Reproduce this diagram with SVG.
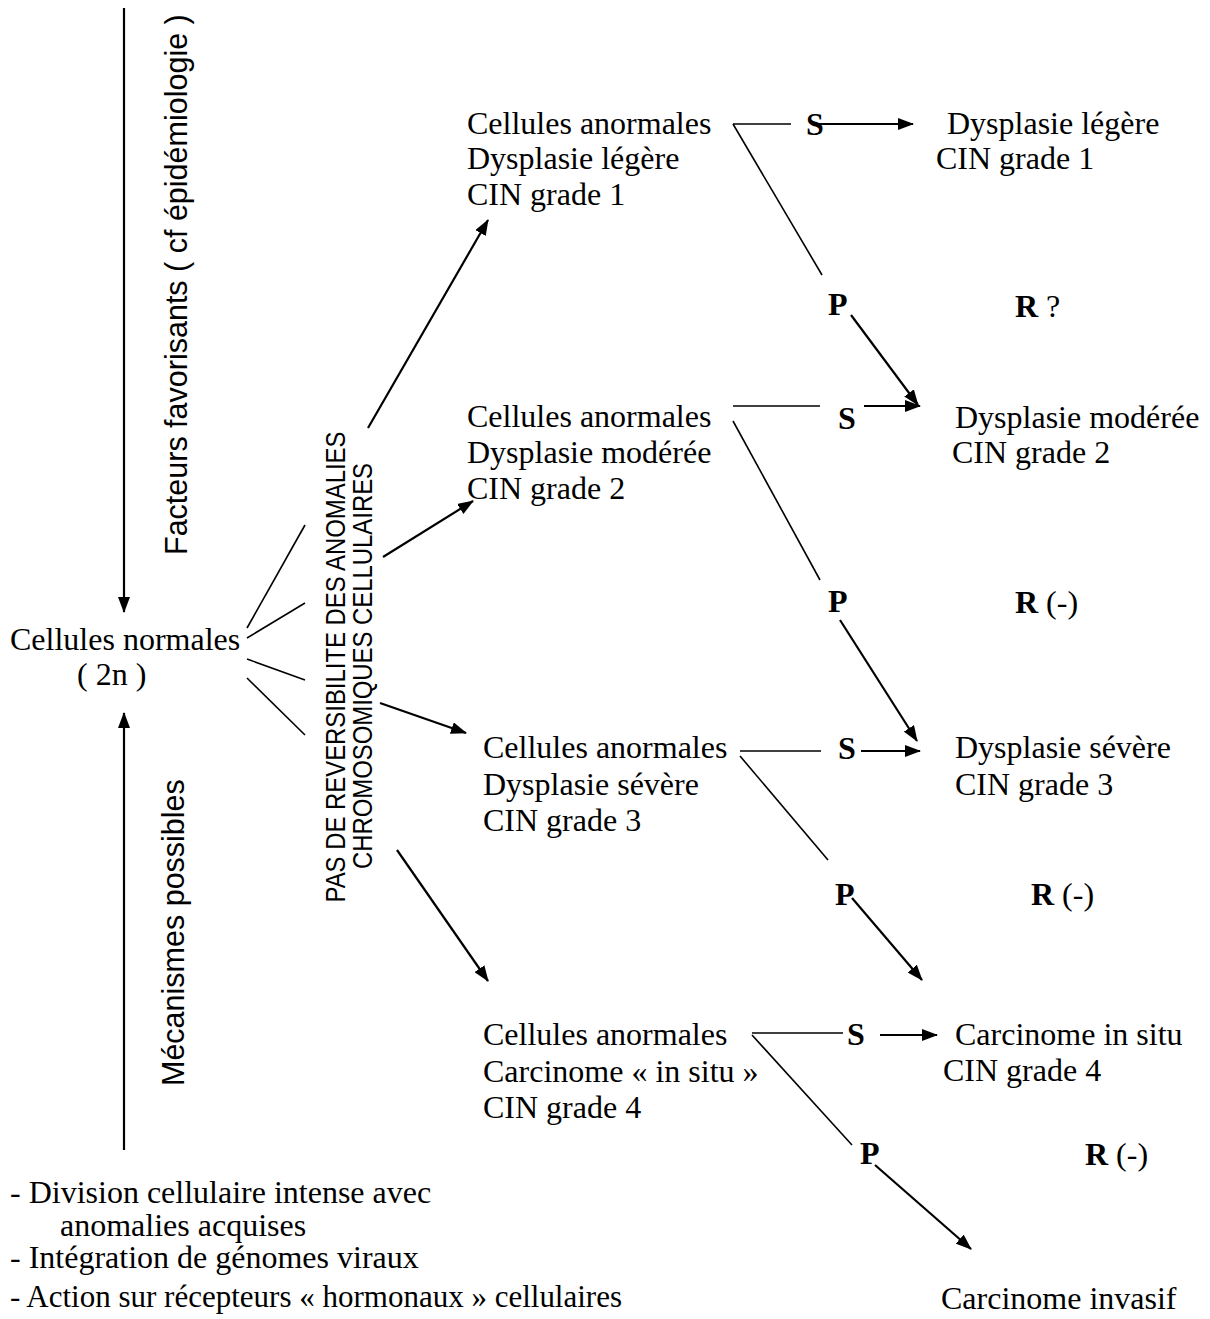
<svg xmlns="http://www.w3.org/2000/svg" width="1210" height="1319" viewBox="0 0 1210 1319">
  <defs>
    <style>
      .t { font-family: "Liberation Serif", "Times New Roman", serif; font-size: 32px; fill: #000; }
      .b { font-weight: bold; }
      .v { font-family: "Liberation Sans", Arial, sans-serif; font-size: 30.5px; fill: #000; }
      .n { font-family: "Liberation Sans", Arial, sans-serif; font-size: 28px; fill: #000; }
      .ln { stroke: #000; stroke-width: 1.6; fill: none; }
      .ar { stroke: #000; stroke-width: 2.2; fill: none; marker-end: url(#head); }
    </style>
    <marker id="head" viewBox="0 0 16 12" refX="15" refY="6" markerWidth="16" markerHeight="12" markerUnits="userSpaceOnUse" orient="auto">
      <path d="M0,0 L16,6 L0,12 Z" fill="#000"/>
    </marker>
  </defs>

  <rect width="1210" height="1319" fill="#fff"/>

  <!-- side annotations -->
  <g id="facteurs">
    <text class="v" transform="translate(187,555) rotate(-90)">Facteurs favorisants ( cf épidémiologie )</text>
  </g>
  <g id="mecanismes">
    <text class="v" transform="translate(184,1086) rotate(-90)">Mécanismes possibles</text>
  </g>
  <g id="irreversibilite">
    <text class="n" text-anchor="middle" transform="translate(345,667) rotate(-90)" textLength="471" lengthAdjust="spacingAndGlyphs">PAS DE REVERSIBILITE DES ANOMALIES</text>
    <text class="n" text-anchor="middle" transform="translate(372,666) rotate(-90)" textLength="406" lengthAdjust="spacingAndGlyphs">CHROMOSOMIQUES CELLULAIRES</text>
  </g>

  <!-- origin -->
  <g id="normales">
    <text class="t" x="10" y="650">Cellules normales</text>
    <text class="t" x="77" y="685">( 2n )</text>
  </g>

  <!-- intermediate stages -->
  <g id="stade1">
    <text class="t" x="467" y="134">Cellules anormales</text>
    <text class="t" x="467" y="169">Dysplasie légère</text>
    <text class="t" x="467" y="205">CIN grade 1</text>
  </g>
  <g id="stade2">
    <text class="t" x="467" y="427">Cellules anormales</text>
    <text class="t" x="467" y="463">Dysplasie modérée</text>
    <text class="t" x="467" y="499">CIN grade 2</text>
  </g>
  <g id="stade3">
    <text class="t" x="483" y="758">Cellules anormales</text>
    <text class="t" x="483" y="795">Dysplasie sévère</text>
    <text class="t" x="483" y="831">CIN grade 3</text>
  </g>
  <g id="stade4">
    <text class="t" x="483" y="1045">Cellules anormales</text>
    <text class="t" x="483" y="1082">Carcinome « in situ »</text>
    <text class="t" x="483" y="1118">CIN grade 4</text>
  </g>

  <!-- outcomes -->
  <g id="issue1">
    <text class="t" x="947" y="134">Dysplasie légère</text>
    <text class="t" x="936" y="169">CIN grade 1</text>
  </g>
  <g id="issue2">
    <text class="t" x="955" y="428">Dysplasie modérée</text>
    <text class="t" x="952" y="463">CIN grade 2</text>
  </g>
  <g id="issue3">
    <text class="t" x="955" y="758">Dysplasie sévère</text>
    <text class="t" x="955" y="795">CIN grade 3</text>
  </g>
  <g id="issue4">
    <text class="t" x="955" y="1045">Carcinome in situ</text>
    <text class="t" x="943" y="1081">CIN grade 4</text>
  </g>
  <g id="invasif">
    <text class="t" x="941" y="1309">Carcinome invasif</text>
  </g>

  <!-- S / P / R markers -->
  <g id="labels">
    <text class="t b" x="806" y="135">S</text>
    <text class="t b" x="828" y="315">P</text>
    <text class="t" x="1015" y="317"><tspan class="b">R</tspan> ?</text>

    <text class="t b" x="838" y="429">S</text>
    <text class="t b" x="828" y="612">P</text>
    <text class="t" x="1015" y="613"><tspan class="b">R</tspan> (-)</text>

    <text class="t b" x="838" y="759">S</text>
    <text class="t b" x="835" y="905">P</text>
    <text class="t" x="1031" y="905"><tspan class="b">R</tspan> (-)</text>

    <text class="t b" x="847" y="1045">S</text>
    <text class="t b" x="860" y="1164">P</text>
    <text class="t" x="1085" y="1165"><tspan class="b">R</tspan> (-)</text>
  </g>

  <!-- mechanisms list -->
  <g id="liste">
    <text class="t" x="10" y="1203">- Division cellulaire intense avec</text>
    <text class="t" x="60" y="1236">anomalies acquises</text>
    <text class="t" x="10" y="1268">- Intégration de génomes viraux</text>
    <text class="t" x="10" y="1307" textLength="612" lengthAdjust="spacingAndGlyphs">- Action sur récepteurs « hormonaux » cellulaires</text>
  </g>

  <!-- connectors -->
  <g id="connecteurs">
    <!-- vertical arrows -->
    <line class="ar" x1="124" y1="8" x2="124" y2="612"/>
    <line class="ar" x1="124" y1="1150" x2="124" y2="713"/>

    <!-- fan from normal cells -->
    <line class="ln" x1="247" y1="628" x2="305" y2="525"/>
    <line class="ln" x1="247" y1="638" x2="305" y2="603"/>
    <line class="ln" x1="247" y1="659" x2="305" y2="680"/>
    <line class="ln" x1="247" y1="678" x2="305" y2="735"/>

    <!-- to the stages -->
    <line class="ar" x1="368" y1="428" x2="488" y2="220"/>
    <line class="ar" x1="383" y1="557" x2="473" y2="501"/>
    <line class="ar" x1="380" y1="703" x2="466" y2="733"/>
    <line class="ar" x1="397" y1="850" x2="488" y2="981"/>

    <!-- stage 1 -->
    <line class="ln" x1="733" y1="124" x2="791" y2="124"/>
    <line class="ar" x1="818" y1="124" x2="913" y2="124"/>
    <line class="ln" x1="733" y1="124" x2="822" y2="275"/>
    <line class="ar" x1="851" y1="315" x2="918" y2="405"/>

    <!-- stage 2 -->
    <line class="ln" x1="733" y1="406" x2="820" y2="406"/>
    <line class="ar" x1="864" y1="406" x2="920" y2="406"/>
    <line class="ln" x1="733" y1="421" x2="820" y2="580"/>
    <line class="ar" x1="840" y1="620" x2="917" y2="741"/>

    <!-- stage 3 -->
    <line class="ln" x1="740" y1="751" x2="821" y2="751"/>
    <line class="ar" x1="861" y1="751" x2="920" y2="751"/>
    <line class="ln" x1="740" y1="756" x2="828" y2="860"/>
    <line class="ar" x1="852" y1="898" x2="922" y2="980"/>

    <!-- stage 4 -->
    <line class="ln" x1="752" y1="1033" x2="843" y2="1033"/>
    <line class="ar" x1="880" y1="1035" x2="937" y2="1035"/>
    <line class="ln" x1="752" y1="1035" x2="852" y2="1145"/>
    <line class="ar" x1="875" y1="1165" x2="971" y2="1249"/>
  </g>
</svg>
